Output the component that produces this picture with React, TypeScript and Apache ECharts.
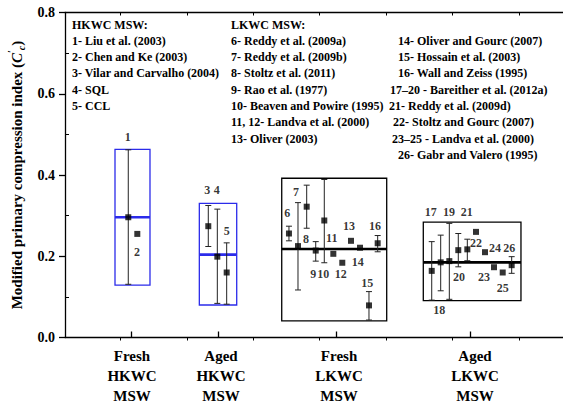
import React, { useEffect, useRef } from "react";
import * as echarts from "echarts";

// ---------- data ----------
const groupNames = ["Fresh\nHKWC\nMSW", "Aged\nHKWC\nMSW", "Fresh\nLKWC\nMSW", "Aged\nLKWC\nMSW"];
const groupTickX = [0.994, 2.304, 4.081, 6.108];
const groupLabelX = [1.009, 2.349, 4.127, 6.175];
const minorTickX = [0.836, 1.836, 2.836, 3.836, 4.836, 5.836, 6.836];
const yMinorTicks = [0.1, 0.3, 0.5, 0.7];

const boxLeft = [0.753, 2.023, 3.264, 5.396];
const boxRight = [1.28, 2.586, 4.845, 6.867];
const boxLow = [0.129, 0.08, 0.041, 0.091];
const boxHigh = [0.463, 0.33, 0.392, 0.284];
const boxMedian = [0.296, 0.204, 0.218, 0.185];

const pointX = [0.953, 1.089, 2.158, 2.294, 2.435, 3.373, 3.509, 3.64, 3.776, 3.905, 4.041, 4.176, 4.307, 4.443, 4.578, 4.709, 5.523, 5.658, 5.788, 5.923, 6.059, 6.19, 6.325, 6.461, 6.592, 6.727];
const pointY = [0.296, 0.255, 0.274, 0.199, 0.16, 0.256, 0.225, 0.322, 0.214, 0.288, 0.206, 0.184, 0.238, 0.221, 0.079, 0.232, 0.164, 0.185, 0.188, 0.215, 0.217, 0.26, 0.21, 0.173, 0.16, 0.178];
const errLow = [0.131, null, 0.224, 0.084, 0.082, 0.238, 0.117, 0.269, 0.188, 0.184, null, null, null, null, 0.043, 0.211, 0.092, 0.115, 0.094, 0.174, 0.189, null, null, null, null, 0.158];
const errHigh = [0.462, null, 0.325, 0.316, 0.233, 0.274, 0.332, 0.375, 0.236, 0.389, null, null, null, null, 0.113, 0.251, 0.236, 0.252, 0.281, 0.256, 0.242, null, null, null, null, 0.199];

const labelText = ["1", "2", "3", "4", "5", "6", "7", "8", "9", "10", "11", "12", "13", "14", "15", "16", "17", "18", "19", "20", "21", "22", "23", "24", "25", "26"];
const labelX = [0.944, 1.084, 2.143, 2.285, 2.435, 3.348, 3.479, 3.63, 3.739, 3.89, 4.017, 4.152, 4.277, 4.408, 4.553, 4.669, 5.508, 5.638, 5.783, 5.934, 6.05, 6.19, 6.31, 6.476, 6.592, 6.691];
const labelY = [0.494, 0.21, 0.363, 0.363, 0.263, 0.306, 0.359, 0.242, 0.156, 0.156, 0.244, 0.156, 0.274, 0.187, 0.135, 0.274, 0.31, 0.068, 0.31, 0.15, 0.31, 0.233, 0.15, 0.221, 0.121, 0.221];

const hkwcRefs = ["HKWC MSW:", "1- Liu et al. (2003)", "2- Chen and Ke (2003)", "3- Vilar and Carvalho (2004)", "4- SQL", "5- CCL"];
const lkwcRefsA = ["LKWC MSW:", "6- Reddy et al. (2009a)", "7- Reddy et al. (2009b)", "8- Stoltz et al. (2011)", "9- Rao et al. (1977)", "10- Beaven and Powire (1995)", "11, 12- Landva et al. (2000)", "13- Oliver (2003)"];
const lkwcRefsB = ["14- Oliver and Gourc (2007)", "15- Hossain et al. (2003)", "16- Wall and Zeiss (1995)", "17\u201320 - Bareither et al. (2012a)", "21- Reddy et al. (2009d)", "22- Stoltz and Gourc (2007)", "23\u201325 - Landva et al. (2000)", "26- Gabr and Valero (1995)"];

// ---------- layout / style ----------
const FONT = '"Liberation Serif", "Times New Roman", serif';
const BLUE = "#2b2bea";
const col3X = [398, 398, 398, 390, 389, 393, 392, 398];
const rowY0 = 24.5;
const rowDY = 16.3;

export default function App() {
  const ref = useRef<HTMLDivElement>(null);
  useEffect(() => {
    if (!ref.current) return;
    const chart = echarts.init(ref.current, null, { renderer: "svg" });

    const legendTexts: any[] = [];
    const mk = (text: string, x: number, y: number) => ({
      type: "text",
      x,
      y,
      style: { text, fill: "#000", fontSize: 12, fontWeight: "bold", fontFamily: FONT, verticalAlign: "middle", align: "left" },
    });
    hkwcRefs.forEach((t, i) => legendTexts.push(mk(t, 72, rowY0 + i * rowDY)));
    lkwcRefsA.forEach((t, i) => legendTexts.push(mk(t, 231, rowY0 + i * rowDY)));
    lkwcRefsB.forEach((t, i) => legendTexts.push(mk(t, col3X[i], rowY0 + (i + 1) * rowDY)));

    const boxData = boxLeft.map((l, i) => [l, boxRight[i], boxLow[i], boxHigh[i], boxMedian[i], i]);
    const errData: number[][] = [];
    pointX.forEach((x, i) => {
      if (errLow[i] != null && errHigh[i] != null) errData.push([x, errLow[i] as number, errHigh[i] as number]);
    });
    const pointData = pointX.map((x, i) => [x, pointY[i]]);
    const labelData = labelX.map((x, i) => [x, labelY[i], labelText[i]]);

    const axisCommon = { type: "value", min: 0, max: 7.5, splitLine: { show: false } };

    chart.setOption({
      animation: false,
      backgroundColor: "#fff",
      grid: { left: 65, top: 12.5, right: 0, bottom: 64.5, outerBoundsMode: "none", containLabel: false },
      xAxis: [
        {
          ...axisCommon,
          position: "bottom",
          axisLine: { show: true, lineStyle: { color: "#000", width: 1.3 } },
          axisTick: { show: true, customValues: groupTickX, inside: true, length: 6, lineStyle: { color: "#000", width: 1.3 } },
          axisLabel: {
            customValues: groupLabelX,
            formatter: (v: number) => {
              const idx = groupLabelX.findIndex((g) => Math.abs(g - v) < 1e-6);
              return idx >= 0 ? groupNames[idx] : "";
            },
            color: "#000",
            fontSize: 15,
            fontWeight: "bold",
            fontFamily: FONT,
            lineHeight: 20,
            margin: 8,
          },
        },
        {
          ...axisCommon,
          position: "bottom",
          axisLine: { show: false },
          axisTick: { show: true, customValues: minorTickX, inside: false, length: 3, lineStyle: { color: "#000", width: 1 } },
          axisLabel: { show: false },
        },
        {
          ...axisCommon,
          position: "top",
          axisLine: { show: true, lineStyle: { color: "#000", width: 1.3 } },
          axisTick: { show: true, customValues: minorTickX, inside: true, length: 3, lineStyle: { color: "#000", width: 1 } },
          axisLabel: { show: false },
        },
      ],
      yAxis: [
        {
          type: "value",
          position: "left",
          min: 0,
          max: 0.8,
          interval: 0.2,
          splitLine: { show: false },
          axisLine: { show: true, lineStyle: { color: "#000", width: 1.3 } },
          axisTick: { show: true, inside: false, length: 6, lineStyle: { color: "#000", width: 1.3 } },
          axisLabel: {
            formatter: (v: number) => v.toFixed(1),
            color: "#000",
            fontSize: 14,
            fontWeight: "bold",
            fontFamily: FONT,
            margin: 10,
          },
          name: "{a|Modified primary compression index (}{i|C}{sup|\u2032}{sub|c}{a|)}",
          nameLocation: "middle",
          nameGap: 38,
          nameTextStyle: {
            rich: {
              a: { fontSize: 15, fontWeight: "bold", fontFamily: FONT, color: "#000", lineHeight: 20 },
              i: { fontSize: 15, fontWeight: "bold", fontStyle: "italic", fontFamily: FONT, color: "#000", lineHeight: 20 },
              sup: { fontSize: 10, fontWeight: "bold", fontStyle: "italic", fontFamily: FONT, color: "#000", verticalAlign: "top", lineHeight: 20 },
              sub: { fontSize: 10, fontWeight: "bold", fontStyle: "italic", fontFamily: FONT, color: "#000", verticalAlign: "bottom", lineHeight: 20 },
            },
          },
        },
        {
          type: "value",
          position: "left",
          min: 0,
          max: 0.8,
          splitLine: { show: false },
          axisLine: { show: false },
          axisTick: { show: true, customValues: yMinorTicks, inside: true, length: 4, lineStyle: { color: "#000", width: 1 } },
          axisLabel: { show: false },
        },
      ],
      graphic: legendTexts,
      series: [
        {
          type: "custom",
          xAxisIndex: 0,
          yAxisIndex: 0,
          data: boxData,
          encode: { x: [0, 1], y: [2, 3, 4] },
          z: 2,
          renderItem: (params: any, api: any) => {
            const x1 = api.value(0), x2 = api.value(1), lo = api.value(2), hi = api.value(3), med = api.value(4), idx = api.value(5);
            const p1 = api.coord([x1, hi]);
            const p2 = api.coord([x2, lo]);
            const pm = api.coord([x1, med]);
            const color = idx < 2 ? BLUE : "#000";
            return {
              type: "group",
              children: [
                { type: "rect", shape: { x: p1[0], y: p1[1], width: p2[0] - p1[0], height: p2[1] - p1[1] }, style: { fill: "none", stroke: color, lineWidth: 1.3 } },
                { type: "line", shape: { x1: p1[0], y1: pm[1], x2: p2[0], y2: pm[1] }, style: { stroke: color, lineWidth: 2.6 } },
              ],
            };
          },
        },
        {
          type: "custom",
          xAxisIndex: 0,
          yAxisIndex: 0,
          data: errData,
          encode: { x: 0, y: [1, 2] },
          z: 3,
          renderItem: (params: any, api: any) => {
            const x = api.value(0), lo = api.value(1), hi = api.value(2);
            const pl = api.coord([x, lo]);
            const ph = api.coord([x, hi]);
            const w = 3;
            const st = { stroke: "#222", lineWidth: 1 };
            return {
              type: "group",
              children: [
                { type: "line", shape: { x1: pl[0], y1: pl[1], x2: ph[0], y2: ph[1] }, style: st },
                { type: "line", shape: { x1: pl[0] - w, y1: pl[1], x2: pl[0] + w, y2: pl[1] }, style: st },
                { type: "line", shape: { x1: ph[0] - w, y1: ph[1], x2: ph[0] + w, y2: ph[1] }, style: st },
              ],
            };
          },
        },
        {
          type: "scatter",
          xAxisIndex: 0,
          yAxisIndex: 0,
          data: pointData,
          symbol: "rect",
          symbolSize: 6,
          itemStyle: { color: "#000" },
          z: 4,
        },
        {
          type: "scatter",
          xAxisIndex: 0,
          yAxisIndex: 0,
          data: labelData,
          symbolSize: 1,
          itemStyle: { color: "transparent" },
          z: 5,
          label: {
            show: true,
            position: "inside",
            formatter: (p: any) => p.data[2],
            color: "#000",
            fontSize: 12,
            fontWeight: "bold",
            fontFamily: FONT,
          },
        },
      ],
    });
    return () => chart.dispose();
  }, []);
  return <div ref={ref} style={{ position: "fixed", left: 0, top: 0, width: 563, height: 402, background: "#fff" }} />;
}
